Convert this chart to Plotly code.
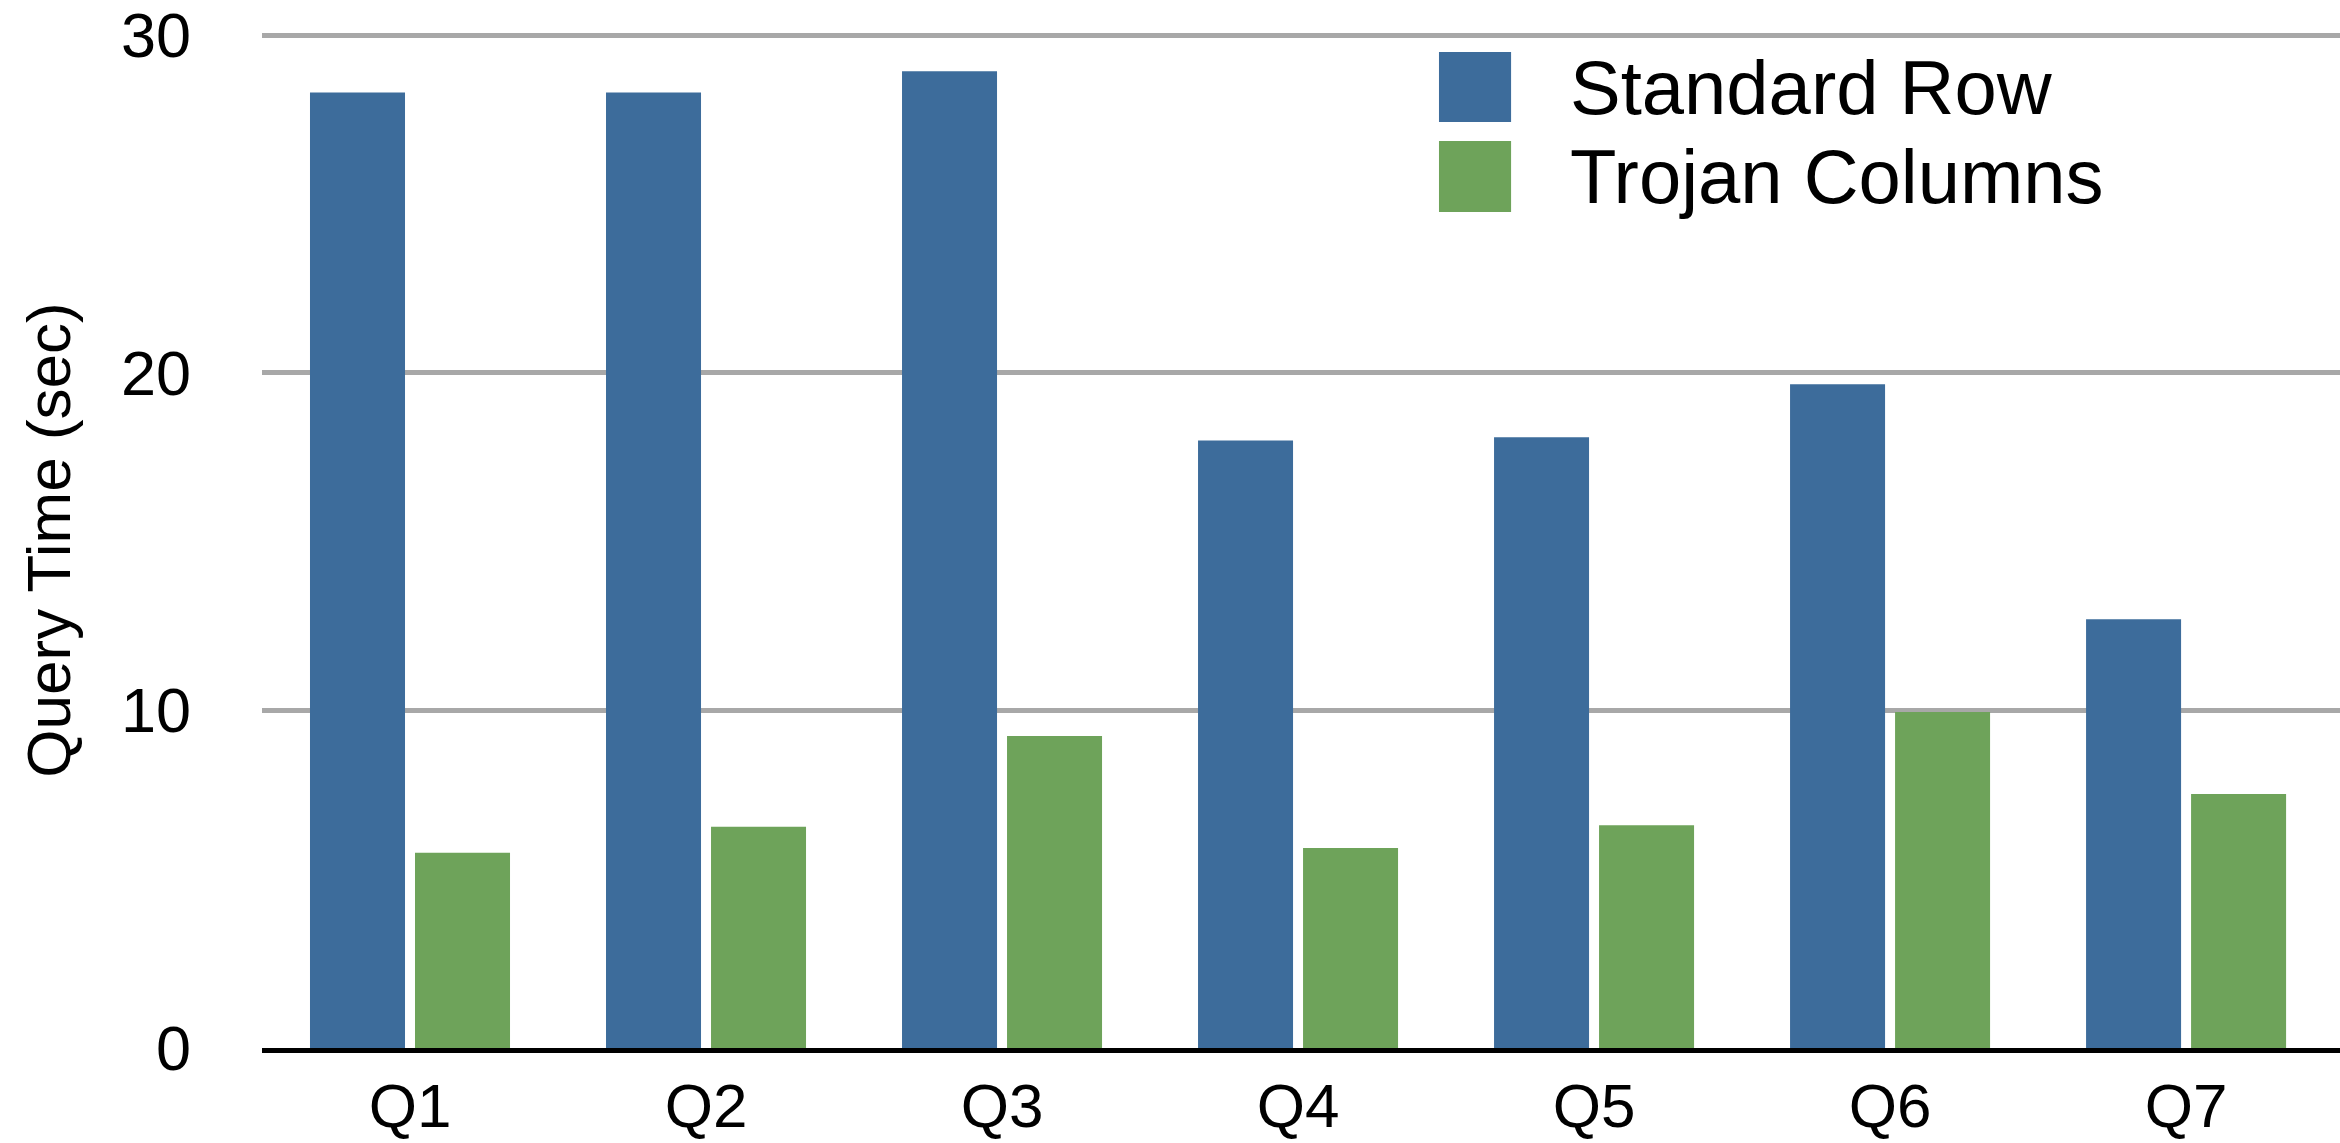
import plotly.graph_objects as go

categories = ["Q1", "Q2", "Q3", "Q4", "Q5", "Q6", "Q7"]
standard_row = [28.3, 28.3, 28.93, 17.99, 18.09, 19.66, 12.70]
trojan_columns = [5.78, 6.55, 9.24, 5.92, 6.60, 9.95, 7.52]
series_names = ["Standard Row", "Trojan Columns"]
series_colors = ["#3d6c9b", "#6ea35a"]
y_ticks = [0, 10, 20, 30]

FONT = "Liberation Sans, Arial, Helvetica, sans-serif"

fig = go.Figure()
for name, vals, col in zip(series_names, [standard_row, trojan_columns], series_colors):
    fig.add_trace(go.Bar(x=categories, y=vals, name=name, marker=dict(color=col, line=dict(width=0)),
                         showlegend=False))

fig.update_layout(
    width=2340, height=1143, autosize=False,
    margin=dict(l=262, r=0, t=32, b=95, pad=0),
    paper_bgcolor="white", plot_bgcolor="white",
    barmode="group", bargap=0.2905, bargroupgap=0.0952,
    font=dict(family=FONT, color="black"),
)
fig.update_xaxes(
    range=[-0.5, 6.52], showgrid=False, zeroline=False, automargin=False,
    showline=True, linecolor="black", linewidth=5,
    ticks="", tickfont=dict(size=62, family=FONT, color="black"),
    ticklabelstandoff=0,
)
fig.update_yaxes(
    range=[0, 30.089], tickvals=y_ticks, ticktext=[str(v) for v in y_ticks],
    showgrid=True, gridcolor="#a8a8a8", gridwidth=5, zeroline=False, showline=False,
    automargin=False,
    ticks="", tickfont=dict(size=63, family=FONT, color="black"),
    ticklabelstandoff=70,
    title=dict(text="Query Time (sec)", font=dict(size=62, family=FONT, color="black"), standoff=30),
)

# legend drawn as large swatches (paper coordinates)
box_x0, box_x1 = 0.5664, 0.6011
rows = [(0.9803, 0.9114), (0.8927, 0.8228)]
for (y1, y0), name, col in zip(rows, series_names, series_colors):
    fig.add_shape(type="rect", xref="paper", yref="paper", x0=box_x0, x1=box_x1, y0=y0, y1=y1,
                  fillcolor=col, line=dict(width=0), layer="above")
    fig.add_annotation(xref="paper", yref="paper", x=0.6285, y=(y0 + y1) / 2, text=name,
                       showarrow=False, xanchor="left", yanchor="middle",
                       font=dict(size=76, family=FONT, color="black"))

fig.write_html("out.html")
